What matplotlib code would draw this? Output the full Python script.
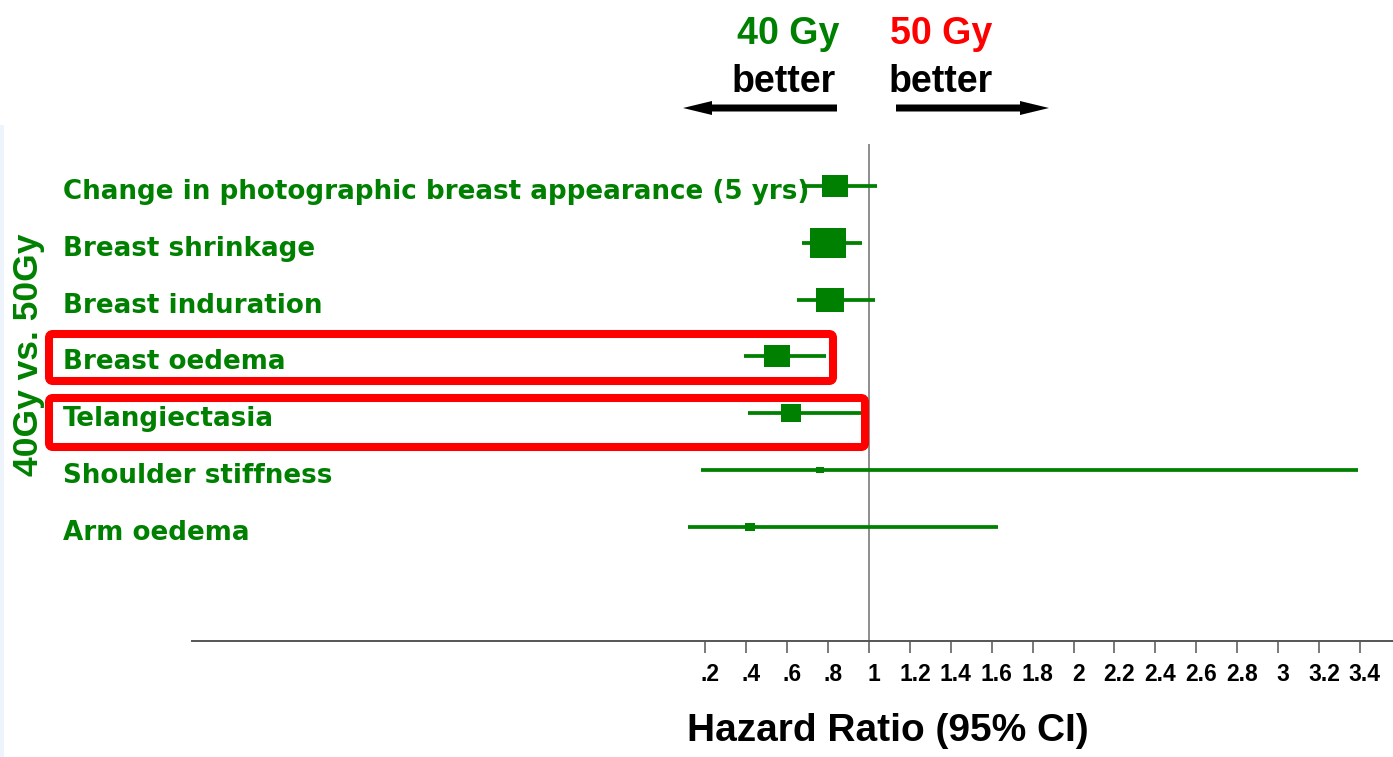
import matplotlib
matplotlib.use("Agg")
import matplotlib.pyplot as plt
from matplotlib import transforms
from matplotlib.patches import FancyArrow, FancyBboxPatch, Rectangle
from matplotlib.path import Path

# ---- data -------------------------------------------------------------
outcomes = [
    "Change in photographic breast appearance (5 yrs)",
    "Breast shrinkage",
    "Breast induration",
    "Breast oedema",
    "Telangiectasia",
    "Shoulder stiffness",
    "Arm oedema",
]
hazard_ratio = [0.836, 0.80, 0.81, 0.55, 0.62, 0.76, 0.42]
ci_low = [0.67, 0.67, 0.65, 0.39, 0.41, 0.18, 0.115]
ci_high = [1.04, 0.966, 1.03, 0.79, 0.97, 3.39, 1.63]
weight = [0.75, 1.00, 0.78, 0.75, 0.58, 0.21, 0.28]   # relative box size
highlighted = ["Breast oedema", "Telangiectasia"]

tick_values = [0.2, 0.4, 0.6, 0.8, 1.0, 1.2, 1.4, 1.6, 1.8, 2.0, 2.2,
               2.4, 2.6, 2.8, 3.0, 3.2, 3.4]
tick_labels = [".2", ".4", ".6", ".8", "1", "1.2", "1.4", "1.6", "1.8", "2",
               "2.2", "2.4", "2.6", "2.8", "3", "3.2", "3.4"]

# ---- styling ------------------------------------------------------------
GREEN = "#008000"
RED = "#ff0000"
AXIS_GREY = "#555555"
HELV = "Liberation Sans"

W, H = 1393, 757
fig = plt.figure(figsize=(W / 100, H / 100), dpi=100)
fig.patch.set_facecolor("white")

# pixel coordinates measured from the top-left corner of the figure
px = transforms.Affine2D().scale(1 / W, -1 / H).translate(0, 1) + fig.transFigure

# faint strip along the left edge
fig.patches.append(Rectangle((0, 125), 4, H - 125, transform=px,
                             facecolor="#eef4fb", edgecolor="none", zorder=0))

ax = fig.add_axes([192 / W, 1 - 640.5 / H, 1 - 192 / W, (640.5 - 144) / H])
ax.set_xlim(-2.3105, 3.5623)
ax.set_ylim(7.998, -0.739)
ax.patch.set_alpha(0)

for side in ("top", "right", "left"):
    ax.spines[side].set_visible(False)
ax.spines["bottom"].set_color(AXIS_GREY)
ax.spines["bottom"].set_linewidth(1.4)
ax.set_yticks([])
ax.set_xticks(tick_values)
ax.tick_params(axis="x", direction="out", length=8.6, width=1.1,
               color=AXIS_GREY, labelbottom=False)

# reference line at HR = 1
ax.axvline(1.0, color="#7a7a7a", lw=1.2, zorder=1)

# tick labels
lab_tr = transforms.blended_transform_factory(ax.transData, px)
lab_tr = transforms.offset_copy(lab_tr, fig=fig, x=5, y=0, units="dots")
for v, lab in zip(tick_values, tick_labels):
    ax.text(v, 681, lab, transform=lab_tr, ha="center", va="baseline",
            fontsize=16.5, fontweight="bold", family=HELV, color="black")

# rectangular box marker (slightly wider than tall)
box = Path([(-0.59, -0.5), (0.59, -0.5), (0.59, 0.5), (-0.59, 0.5), (-0.59, -0.5)],
           [Path.MOVETO, Path.LINETO, Path.LINETO, Path.LINETO, Path.CLOSEPOLY])

rows = list(range(len(outcomes)))
for i, lo, hi, hr, w in zip(rows, ci_low, ci_high, hazard_ratio, weight):
    ax.plot([lo, hi], [i, i], color=GREEN, lw=2.7, solid_capstyle="butt", zorder=2)
    ax.plot([hr], [i], marker=box, markersize=w * 36 * 0.72, color=GREEN,
            markeredgewidth=0, linestyle="none", zorder=3)

# outcome labels
row_tr = transforms.blended_transform_factory(fig.transFigure, ax.transData)
row_tr = transforms.offset_copy(row_tr, fig=fig, x=0, y=-13, units="dots")
for i, name in zip(rows, outcomes):
    ax.text(63 / W, i, name, transform=row_tr, ha="left", va="baseline",
            fontsize=18.85, fontweight="bold", family="DejaVu Sans",
            color=GREEN, zorder=4, clip_on=False)

# highlight frames
frames = {"Breast oedema": (49, 334, 833, 381),
          "Telangiectasia": (49, 398, 865, 447)}
for name in highlighted:
    x0, y0, x1, y1 = frames[name]
    fig.patches.append(FancyBboxPatch((x0, y0), x1 - x0, y1 - y0, transform=px,
                                      boxstyle="round,pad=0,rounding_size=4",
                                      facecolor="none", edgecolor=RED, lw=5.8,
                                      zorder=5))

# side label
fig.text(29 / W, 1 - 355 / H, "40Gy vs. 50Gy", rotation=90, ha="center",
         va="center", fontsize=25.5, fontweight="bold", family=HELV, color=GREEN)


def ftext(x, y, s, color, size, ha="center"):
    fig.text(x, y, s, transform=px, ha=ha, va="baseline", fontsize=size,
             fontweight="bold", family=HELV, color=color)


# direction annotations
ftext(788, 44, "40 Gy", GREEN, 27)
ftext(784, 92, "better", "black", 27)
ftext(941, 44, "50 Gy", RED, 27)
ftext(941, 92, "better", "black", 27)
fig.patches.append(FancyArrow(837, 108, -154, 0, width=7, head_width=14,
                              head_length=29, length_includes_head=True,
                              transform=px, color="black", lw=0))
fig.patches.append(FancyArrow(896, 108, 153, 0, width=7, head_width=14,
                              head_length=29, length_includes_head=True,
                              transform=px, color="black", lw=0))

# axis title
ftext(888, 741, "Hazard Ratio (95% CI)", "black", 28)

fig.savefig("out.png", dpi=100, facecolor="white")
